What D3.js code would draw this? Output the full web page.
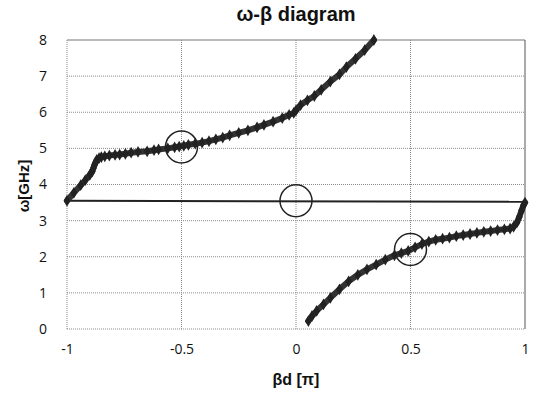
<!DOCTYPE html>
<html>
<head>
<meta charset="utf-8">
<script src="https://cdn.jsdelivr.net/npm/d3@7"></script>
<style>
  html, body { margin: 0; padding: 0; background: #fff; }
  svg { display: block; }
</style>
</head>
<body>
<svg id="chart" width="540" height="395"></svg>
<script>
// ---- data ----
const titleText = "ω-β diagram";
const xAxisTitle = "βd [π]";
const yAxisTitle = "ω[GHz]";
const xTicks = [-1, -0.5, 0, 0.5, 1];
const yTicks = [0, 1, 2, 3, 4, 5, 6, 7, 8];

const upperBandX = [-1, -0.97, -0.94, -0.92, -0.90, -0.89, -0.885, -0.88, -0.875, -0.87, -0.86, -0.85, -0.835, -0.815, -0.79, -0.77, -0.745, -0.72, -0.69, -0.65, -0.62, -0.6, -0.56, -0.53, -0.51, -0.49, -0.47, -0.44, -0.41, -0.38, -0.35, -0.32, -0.29, -0.25, -0.21, -0.17, -0.14, -0.1, -0.06, -0.03, -0.01, 0.0, 0.02, 0.05, 0.08, 0.11, 0.15, 0.19, 0.22, 0.26, 0.3, 0.34];
const upperBandY = [3.55, 3.77, 3.98, 4.12, 4.27, 4.36, 4.45, 4.54, 4.61, 4.68, 4.73, 4.76, 4.78, 4.8, 4.82, 4.83, 4.85, 4.88, 4.9, 4.92, 4.95, 4.97, 5.0, 5.03, 5.05, 5.07, 5.1, 5.13, 5.16, 5.2, 5.25, 5.3, 5.36, 5.43, 5.5, 5.58, 5.65, 5.74, 5.84, 5.93, 5.98, 6.05, 6.2, 6.33, 6.45, 6.62, 6.85, 7.05, 7.25, 7.48, 7.72, 8.0];

const lowerBandX = [0.054, 0.07, 0.09, 0.12, 0.15, 0.19, 0.23, 0.27, 0.31, 0.35, 0.39, 0.43, 0.46, 0.49, 0.52, 0.55, 0.58, 0.61, 0.64, 0.67, 0.7, 0.73, 0.76, 0.79, 0.82, 0.85, 0.88, 0.91, 0.935, 0.95, 0.965, 0.975, 0.985, 0.993, 1.0];
const lowerBandY = [0.22, 0.36, 0.5, 0.68, 0.86, 1.1, 1.32, 1.5, 1.65, 1.78, 1.92, 2.04, 2.1, 2.16, 2.26, 2.35, 2.42, 2.47, 2.5, 2.53, 2.57, 2.6, 2.63, 2.66, 2.69, 2.71, 2.74, 2.76, 2.78, 2.83, 2.95, 3.1, 3.28, 3.42, 3.5];

const lightLineX = [-1, 1];
const lightLineY = [3.55, 3.52];

const circleX = [-0.5, 0, 0.5];
const circleY = [5.04, 3.55, 2.2];

(function () {
// ---- layout ----
const svg = d3.select("#chart");
const pLeft = 67, pRight = 525, pTop = 40, pBottom = 329;
const x = d3.scaleLinear().domain([-1, 1]).range([pLeft, pRight]);
const y = d3.scaleLinear().domain([0, 8]).range([pBottom, pTop]);
const sans = "'Liberation Sans', Arial, sans-serif";
const tickFont = "'Open Sans', 'Liberation Sans', sans-serif";

// gridlines
const grid = svg.append("g");
grid.selectAll("line.h").data(yTicks).enter().append("line")
  .attr("x1", pLeft).attr("x2", pRight)
  .attr("y1", d => y(d)).attr("y2", d => y(d))
  .attr("stroke", d => d === 8 ? "#777" : "#8a8a8a")
  .attr("stroke-width", 1)
  .attr("stroke-dasharray", d => d === 8 ? null : "1,1");
grid.selectAll("line.v").data(xTicks).enter().append("line")
  .attr("y1", pTop).attr("y2", pBottom)
  .attr("x1", d => x(d)).attr("x2", d => x(d))
  .attr("stroke", d => d === 1 ? "#555" : "#8a8a8a")
  .attr("stroke-width", 1)
  .attr("stroke-dasharray", d => d === 1 ? null : "1,1");

// axes (labels only)
const xAxis = d3.axisBottom(x).tickValues(xTicks).tickSize(0).tickPadding(0)
  .tickFormat(d => String(d));
const gx = svg.append("g").attr("transform", `translate(0,${pBottom + 15})`).call(xAxis);
gx.select(".domain").remove();
gx.selectAll("text").attr("font-family", tickFont).attr("font-size", 14).attr("fill", "#111");

const yAxis = d3.axisLeft(y).tickValues(yTicks).tickSize(0).tickPadding(0);
const gy = svg.append("g").attr("transform", `translate(${pLeft - 20},0)`).call(yAxis);
gy.select(".domain").remove();
gy.selectAll("text").attr("font-family", tickFont).attr("font-size", 14).attr("fill", "#111");

// light line
const lineGen = d3.line().x(d => x(d[0])).y(d => y(d[1]));
svg.append("path")
  .datum(lightLineX.map((v, i) => [v, lightLineY[i]]))
  .attr("d", lineGen).attr("fill", "none")
  .attr("stroke", "#222").attr("stroke-width", 2);

// bands
function drawBand(xs, ys) {
  const pts = xs.map((v, i) => [v, ys[i]]);
  svg.append("path").datum(pts).attr("d", lineGen)
    .attr("fill", "none").attr("stroke", "#333")
    .attr("stroke-width", 6).attr("stroke-linecap", "round").attr("stroke-linejoin", "round");
  svg.append("g").selectAll("path").data(pts).enter().append("path")
    .attr("d", d3.symbol().type(d3.symbolDiamond).size(40))
    .attr("transform", d => `translate(${x(d[0])},${y(d[1])})`)
    .attr("fill", "#222");
}
drawBand(upperBandX, upperBandY);
drawBand(lowerBandX, lowerBandY);

// circles
svg.append("g").selectAll("circle").data(circleX.map((v, i) => [v, circleY[i]])).enter()
  .append("circle")
  .attr("cx", d => x(d[0])).attr("cy", d => y(d[1])).attr("r", 16)
  .attr("fill", "none").attr("stroke", "#222").attr("stroke-width", 1.5);

// titles
svg.append("text").attr("x", (pLeft + pRight) / 2).attr("y", 21)
  .attr("text-anchor", "middle").attr("font-family", sans)
  .attr("font-weight", "bold").attr("font-size", 20).attr("fill", "#111")
  .text(titleText);
svg.append("text").attr("x", (pLeft + pRight) / 2).attr("y", 385)
  .attr("text-anchor", "middle").attr("font-family", sans)
  .attr("font-weight", "bold").attr("font-size", 16).attr("fill", "#111")
  .text(xAxisTitle);
svg.append("text").attr("transform", `translate(29,186) rotate(-90)`)
  .attr("text-anchor", "middle").attr("font-family", sans)
  .attr("font-weight", "bold").attr("font-size", 15).attr("fill", "#111")
  .text(yAxisTitle);
})();
</script>
</body>
</html>
